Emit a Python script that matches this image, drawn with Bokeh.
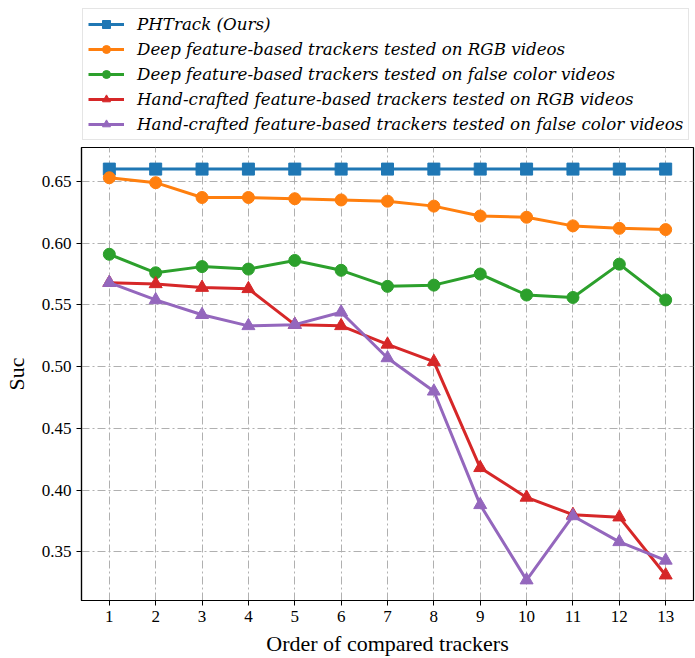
from bokeh.plotting import figure
from bokeh.layouts import column
from bokeh.models import Legend, LegendItem, FixedTicker, NumeralTickFormatter
from bokeh.embed import file_html
from bokeh.resources import INLINE

# Success scores ordered by rank of the compared trackers
order = [1, 2, 3, 4, 5, 6, 7, 8, 9, 10, 11, 12, 13]
phtrack = [0.660, 0.660, 0.660, 0.660, 0.660, 0.660, 0.660, 0.660, 0.660, 0.660, 0.660, 0.660, 0.660]
deep_rgb = [0.653, 0.649, 0.637, 0.637, 0.636, 0.635, 0.634, 0.630, 0.622, 0.621, 0.614, 0.612, 0.611]
deep_false = [0.591, 0.576, 0.581, 0.579, 0.586, 0.578, 0.565, 0.566, 0.575, 0.558, 0.556, 0.583, 0.554]
hand_rgb = [0.568, 0.567, 0.564, 0.563, 0.534, 0.533, 0.518, 0.504, 0.418, 0.394, 0.380, 0.378, 0.331]
hand_false = [0.568, 0.554, 0.542, 0.533, 0.534, 0.544, 0.507, 0.480, 0.388, 0.327, 0.379, 0.358, 0.343]

labels = [
    "PHTrack (Ours)",
    "Deep feature-based trackers tested on RGB videos",
    "Deep feature-based trackers tested on false color videos",
    "Hand-crafted feature-based trackers tested on RGB videos",
    "Hand-crafted feature-based trackers tested on false color videos",
]
y_ticks = [0.35, 0.40, 0.45, 0.50, 0.55, 0.60, 0.65]

series = [phtrack, deep_rgb, deep_false, hand_rgb, hand_false]
colors = ["#1f77b4", "#ff7f0e", "#2ca02c", "#d62728", "#9467bd"]
markers = ["square", "circle", "circle", "triangle", "triangle"]
msizes = [12, 12, 12, 13, 13]

SERIF = "Liberation Serif"
W = 695

# --- main chart ---
p = figure(width=W, height=512, x_range=(0.4, 13.6), y_range=(0.3105, 0.6775),
           output_backend="svg", toolbar_location=None,
           min_border_left=80, min_border_right=2, min_border_bottom=53, min_border_top=1)

p.background_fill_color = "white"
p.outline_line_color = "black"
p.outline_line_width = 1.2

for ax in (p.xaxis[0], p.yaxis[0]):
    ax.axis_line_color = "black"
    ax.axis_line_width = 1.2
    ax.major_tick_line_color = "black"
    ax.major_tick_out = 5
    ax.major_tick_in = 0
    ax.minor_tick_line_color = None
    ax.major_label_text_font = SERIF
    ax.major_label_text_font_size = "17px"
    ax.major_label_text_color = "black"
    ax.axis_label_text_font = SERIF
    ax.axis_label_text_font_style = "normal"
    ax.axis_label_text_font_size = "22px"
    ax.axis_label_text_color = "black"

p.xaxis.ticker = FixedTicker(ticks=order)
p.yaxis.ticker = FixedTicker(ticks=y_ticks)
p.yaxis.formatter = NumeralTickFormatter(format="0.00")
p.xaxis.axis_label = "Order of compared trackers"
p.yaxis.axis_label = "Suc"
p.xaxis.axis_label_standoff = 6
p.yaxis.axis_label_standoff = 10

for g in (p.xgrid[0], p.ygrid[0]):
    g.grid_line_color = "#b0b0b0"
    g.grid_line_width = 1
    g.grid_line_dash = "8 3 2 3"

# --- legend strip above the chart (its ranges keep the key series out of view) ---
lg = figure(width=W, height=146, x_range=(-2, -1), y_range=(-2, -1),
            output_backend="svg", toolbar_location=None,
            x_axis_location=None, y_axis_location=None,
            min_border_left=0, min_border_right=0, min_border_top=0, min_border_bottom=0)
lg.grid.visible = False
lg.outline_line_color = None

items = []
for ys, c, m, s, lab in zip(series, colors, markers, msizes, labels):
    p.line(order, ys, line_color=c, line_width=3)
    p.scatter(order, ys, marker=m, size=s, fill_color=c, line_color=c)
    kl = lg.line(order, ys, line_color=c, line_width=3)
    ks = lg.scatter(order, ys, marker=m, size=s, fill_color=c, line_color=c)
    items.append(LegendItem(label=lab, renderers=[kl, ks]))

legend = Legend(items=items, location=(1, 6))
legend.label_text_font = "DejaVu Serif"
legend.label_text_font_style = "italic"
legend.label_text_font_size = "16.7px"
legend.label_text_color = "black"
legend.glyph_width = 36
legend.glyph_height = 20
legend.label_height = 20
legend.spacing = 5
legend.padding = 5
legend.margin = 0
legend.label_standoff = 13
legend.border_line_color = "#cccccc"
legend.border_line_width = 1.2
lg.add_layout(legend, "center")

open("out.html", "w").write(file_html(column(lg, p, spacing=0), INLINE))
